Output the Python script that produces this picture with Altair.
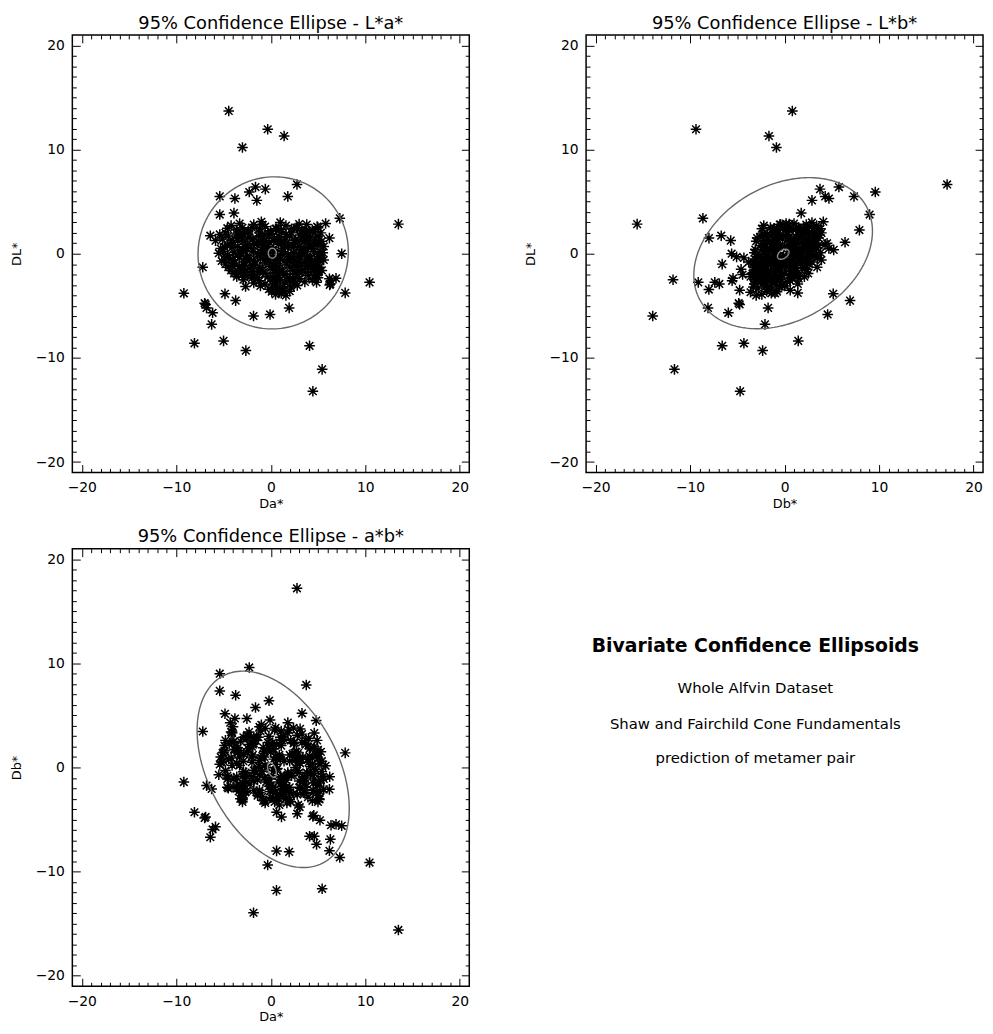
import numpy as np
import pandas as pd
import altair as alt

# ---------------- data (DL*, Da*, Db*) ----------------
# dense central cluster, row by row
core_L = [2.7, 2.5, 2.8, 2.6, 2.4, 2.7, 2.5, 2.8, 2.6,
          2.3, 2.2, 2.4, 2.2, 2.3, 2.4, 2.2, 2.3,
          2.0, 1.9, 2.1, 2.0, 1.9, 2.1, 2.0, 1.9, 2.1, 2.0,
          1.7, 1.8, 1.6, 1.7, 1.8, 1.6, 1.7, 1.8, 1.6, 1.7,
          1.4, 1.3, 1.5, 1.4, 1.3, 1.5, 1.4, 1.3, 1.5, 1.4,
          1.1, 1.2, 1.0, 1.1, 1.2, 1.0, 1.1, 1.2, 1.0,
          0.8, 0.7, 0.9, 0.8, 0.7, 0.9, 0.8, 0.7, 0.9, 0.8,
          0.5, 0.6, 0.4, 0.5, 0.6, 0.4, 0.5, 0.6, 0.4, 0.5,
          0.2, 0.1, 0.3, 0.2, 0.1, 0.3, 0.2, 0.1, 0.3, 0.2, 0.1,
          -0.1, 0.0, -0.2, -0.1, 0.0, -0.2, -0.1, 0.0, -0.2, -0.1,
          -0.4, -0.3, -0.5, -0.4, -0.3, -0.5, -0.4, -0.3, -0.5, -0.4,
          -0.7, -0.6, -0.8, -0.7, -0.6, -0.8, -0.7, -0.6, -0.8, -0.7,
          -1.0, -0.9, -1.1, -1.0, -0.9, -1.1, -1.0, -0.9, -1.1, -1.0,
          -1.3, -1.2, -1.4, -1.3, -1.2, -1.4, -1.3, -1.2, -1.4, -1.3,
          -1.6, -1.5, -1.7, -1.6, -1.5, -1.7, -1.6, -1.5, -1.7, -1.6,
          -1.9, -1.8, -2.0, -1.9, -1.8, -2.0, -1.9, -1.8, -2.0,
          -2.2, -2.1, -2.3, -2.2, -2.1, -2.3, -2.2, -2.1, -2.3,
          -2.5, -2.6, -2.4, -2.5, -2.6, -2.4, -2.5,
          -2.8, -2.9, -2.7, -2.8, -2.9, -2.7,
          -3.4, -3.3, -3.5, -3.2,
          -3.9, -3.8, -4.0,
          2.9, 2.8, 3.0, 2.85,
          2.45, 2.5, 2.4, 2.45, 2.5,
          1.85, 1.9, 1.8, 1.85, 1.9,
          1.25, 1.2, 1.3, 1.25, 1.2,
          0.65, 0.6, 0.7, 0.65, 0.6, 0.7,
          0.05, 0.0, 0.1, 0.05, 0.0, 0.1,
          -0.55, -0.5, -0.6, -0.55, -0.5, -0.6,
          -1.15, -1.1, -1.2, -1.15, -1.1,
          -1.75, -1.7, -1.8, -1.75, -1.7,
          -2.35, -2.3, -2.4, -2.35,
          -3.1, -3.0, -3.2, -3.05,
          -3.65, -3.7, -3.6]
core_a = [-4.2, -3.0, -1.8, -0.6, 0.5, 1.6, 2.7, 3.8, 4.9,
          -3.6, -2.4, -1.2, 0.0, 1.1, 2.2, 3.3, 4.4,
          -4.8, -3.6, -2.4, -1.2, 0.0, 1.1, 2.2, 3.3, 4.4, 5.3,
          -4.5, -3.4, -2.3, -1.3, -0.2, 0.9, 2.0, 3.1, 4.2, 5.0,
          -5.1, -4.1, -3.0, -1.9, -0.7, 0.4, 1.5, 2.6, 3.7, 4.7,
          -4.0, -2.9, -1.8, -0.8, 0.3, 1.4, 2.5, 3.6, 4.6,
          -4.6, -3.5, -2.5, -1.4, -0.3, 0.8, 1.9, 3.0, 4.1, 5.2,
          -5.3, -4.1, -3.0, -2.0, -0.9, 0.2, 1.3, 2.4, 3.5, 4.5,
          -5.0, -3.9, -2.9, -1.8, -0.8, 0.3, 1.3, 2.4, 3.5, 4.6, 5.5,
          -4.6, -3.5, -2.5, -1.4, -0.4, 0.7, 1.8, 2.9, 3.9, 5.0,
          -4.4, -3.3, -2.2, -1.1, 0.0, 1.0, 2.1, 3.1, 4.2, 5.2,
          -5.2, -4.0, -2.9, -1.8, -0.7, 0.4, 1.4, 2.5, 3.6, 4.6,
          -4.8, -3.8, -2.7, -1.6, -0.5, 0.6, 1.7, 2.8, 3.9, 4.9,
          -4.5, -3.3, -2.3, -1.2, -0.1, 0.9, 2.0, 3.1, 4.2, 5.1,
          -4.2, -3.0, -2.0, -0.9, 0.2, 1.2, 2.3, 3.4, 4.5, 5.4,
          -3.9, -2.8, -1.7, -0.6, 0.5, 1.5, 2.6, 3.7, 4.8,
          -3.6, -2.5, -1.4, -0.3, 0.8, 1.8, 2.9, 4.0, 5.0,
          -2.9, -1.2, 0.0, 1.0, 2.0, 3.0, 4.4,
          -1.8, -0.6, 0.5, 1.5, 2.5, 3.6,
          -0.2, 0.7, 1.4, 2.1,
          0.5, 1.1, 1.6,
          -3.3, -0.9, 1.0, 3.0,
          -4.6, -2.0, 0.6, 2.8, 5.0,
          -5.4, -2.9, -0.7, 1.6, 3.7,
          -3.5, -1.3, 0.9, 3.1, 5.4,
          -4.9, -2.7, -0.4, 1.8, 4.0, 5.6,
          -5.5, -3.2, -1.0, 1.2, 3.4, 5.3,
          -4.9, -2.6, -0.2, 2.0, 4.1, 5.6,
          -4.1, -1.9, 0.3, 2.5, 4.5,
          -3.4, -1.2, 1.0, 3.0, 5.1,
          -2.0, 0.3, 2.4, 4.6,
          -1.1, 0.2, 1.2, 2.8,
          0.1, 0.9, 2.0]
core_b = [3.4, -1.5, 2.3, 0.2, 3.8, -2.2, 1.5, -0.5, 2.6,
          0.4, 3.0, -2.4, 1.7, 3.5, -0.8, 2.4, 0.9,
          2.6, -0.9, 1.8, 3.9, -1.8, 2.1, -0.6, 3.2, 0.3, -1.2,
          -2.0, 1.6, 3.4, 0.1, 3.0, -2.6, 1.2, 3.7, -0.6, 1.7,
          1.4, 3.3, -2.9, 2.2, -1.0, 3.6, -0.9, 0.7, 2.6, -0.2,
          2.4, 0.6, -2.2, 1.9, -3.0, 2.7, 1.0, -1.0, 3.3,
          -0.8, 1.9, 2.8, -2.5, 2.4, -1.4, 3.6, -0.5, 1.1, 0.4,
          1.0, 3.4, -3.1, 0.5, 1.1, -1.9, 3.0, 2.3, -2.4, -1.5,
          0.6, -1.1, 1.3, 2.9, -3.2, 1.8, -2.0, 3.8, -1.3, 2.0, -0.9,
          -1.9, 1.4, 3.1, -2.7, 1.7, -0.1, 3.3, 1.4, -0.6, 0.9,
          2.3, 0.2, -1.6, 3.5, -2.9, 0.9, 2.6, -1.9, 0.1, -2.3,
          0.5, -1.9, 2.9, -0.3, 1.0, -3.3, -0.9, 2.4, -1.5, -0.6,
          -0.3, 1.7, -2.4, 2.6, -1.4, 2.2, -3.4, -2.6, 0.8, -1.7,
          -1.0, -2.0, 2.2, -0.7, -2.3, 1.0, -3.1, 0.4, 1.9, -3.0,
          0.9, -3.0, 1.0, -2.8, 2.4, -1.8, 1.3, -0.9, -2.2, -0.4,
          2.5, -1.7, -0.3, -3.4, 1.0, -2.6, 0.0, -1.9, 1.2,
          -2.0, 1.4, -1.2, 2.1, -2.9, -0.5, -3.6, 0.5, -2.7,
          -0.4, -2.2, 1.5, -2.8, 0.6, -1.3, -3.2,
          -1.3, -3.2, 0.3, -2.1, 1.4, -2.5,
          -1.8, -2.8, 0.6, -3.3,
          -2.4, -1.0, -3.0,
          1.0, -0.4, 2.9, 0.5,
          -1.1, 2.0, -0.2, 3.1, 1.3,
          0.3, -2.3, 1.5, -1.2, 2.2,
          -1.6, 2.9, 1.2, -2.0, 0.6,
          2.1, -1.3, 0.0, -0.7, 2.8, -2.1,
          -0.7, 2.5, 0.9, 2.6, 1.0, 1.5,
          1.6, -0.8, -1.1, -2.4, 1.8, -1.1,
          0.2, 1.2, -0.3, 1.0, -2.4,
          -2.3, 0.7, -0.9, 0.9, -1.5,
          -0.9, 0.8, -2.5, -1.1,
          0.0, -2.1, -1.5, -0.3,
          -0.8, -3.6, -1.9]

# scattered observations
out_L = [13.7, 11.95, 11.3, 10.2, 2.84, 6.65, 5.5, 6.4, 6.2, 5.92,
         5.12, 5.5, 5.3, 3.76, 3.9, 3.4, 2.9, 1.73, 1.26, 1.5,
         0.0, -1.3, -2.75, -3.8, -3.85, -3.15, -4.5, -3.76, -2.75, -3.0,
         -2.36, -4.87, -5.2, -5.67, -6.78, -5.98, -5.83, -5.2, -8.6, -8.37,
         -9.3, -8.84, -11.1, -13.2, -2.9, 1.0, -2.5, -3.44, 2.27, 1.1,
         0.37, -2.4, -4.75, 0.5, 3.07, -0.4, -1.6, -2.0, -1.2, -0.6,
         -1.8, -3.5, -2.0, -0.8, -1.5, -0.3, -2.6, -1.0, 0.9, -0.6]
out_a = [-4.45, -0.33, 1.41, -3.0, 13.5, 2.77, 1.8, -1.62, -0.58, -2.28,
         -1.48, -5.4, -3.8, -5.4, -3.9, 7.3, 5.8, -6.4, -5.85, 6.2,
         7.5, -7.2, 10.45, -9.2, -4.85, -2.67, -3.72, 7.87, 4.84, 6.23,
         6.9, -6.9, -6.8, -6.16, -6.26, -1.83, -0.08, 1.94, -8.08, -5.0,
         -2.64, 4.1, 5.43, 4.45, 6.3, 4.8, 0.6, 0.61, 3.75, -0.19,
         3.3, 6.2, -7.0, -2.53, -1.0, 0.61, -3.23, -3.0, 3.93, 5.15,
         4.99, 1.13, 2.8, 3.05, 4.55, 5.2, 6.37, 4.6, -4.3, -4.0]
out_b = [0.82, -9.37, -1.65, -0.86, -15.6, 17.2, 4.3, 5.75, 3.75, 9.6,
         2.9, 7.35, 4.7, 9.0, 1.76, -8.64, 0.16, -6.7, -5.7, -8.0,
         -5.6, 3.45, -9.13, -1.4, 5.15, -0.5, 6.93, 1.4, -7.38, -0.89,
         -5.45, -4.75, -1.74, -5.95, -2.07, -13.95, 4.56, -8.1, -4.3, 1.45,
         -2.32, -6.6, -11.65, -4.7, -6.9, 4.5, -11.8, -8.01, 7.92, 6.4,
         5.2, -2.1, -4.85, 4.69, 4.1, -4.3, -3.0, -3.3, -2.85, -3.07,
         -3.3, -4.75, -4.44, -3.8, -4.6, -5.07, -5.55, -6.6, 4.3, 3.9]

# 95% confidence ellipse per panel: centre and (sxx, syy, sxy)
ell_cx = [0.25, -0.15, 0.25]
ell_cy = [0.08, 0.05, -0.18]
ell_sxx = [63.2, 89.3, 64.8]
ell_syy = [53.3, 52.6, 88.9]
ell_sxy = [1.0, 20.0, -30.0]
# small ellipse of the mean
mean_cx = [0.16, -0.14, 0.12]
mean_cy = [0.05, -0.05, -0.24]
mean_sxx = [0.18, 0.37, 0.22]
mean_syy = [0.23, 0.23, 0.50]
mean_sxy = [0.0, 0.12, -0.15]

titles = ["95% Confidence Ellipse - L*a*", "95% Confidence Ellipse - L*b*",
          "95% Confidence Ellipse - a*b*"]
x_fields = ["a", "b", "a"]
y_fields = ["L", "L", "b"]
x_titles = ["Da*", "Db*", "Da*"]
y_titles = ["DL*", "DL*", "Db*"]

text_lines = ["Bivariate Confidence Ellipsoids", "Whole Alfvin Dataset",
              "Shaw and Fairchild Cone Fundamentals", "prediction of metamer pair"]

MAJOR = [-20, -10, 0, 10, 20]
MINOR = [v for v in range(-20, 21) if v % 10 != 0]
DOM = [-21, 21]
FONT = "DejaVu Sans"
STAR = "M-1,0L1,0M0,-1L0,1M-0.72,-0.72L0.72,0.72M-0.72,0.72L0.72,-0.72"

core = pd.DataFrame({"L": core_L, "a": core_a, "b": core_b})
outl = pd.DataFrame({"L": out_L, "a": out_a, "b": out_b})


def ellipse_df(cx, cy, sxx, syy, sxy, n=181):
    t = np.linspace(0, 2 * np.pi, n)
    sx = np.sqrt(sxx)
    k = sxy / sx
    r = np.sqrt(syy - k * k)
    return pd.DataFrame({"x": cx + sx * np.cos(t),
                         "y": cy + k * np.cos(t) + r * np.sin(t),
                         "i": np.arange(n)})


def axis(orient, values, size, title=None):
    kw = dict(orient=orient, values=values, tickSize=size, offset=-size,
              domain=False, grid=False, ticks=True, tickColor="black",
              tickWidth=1)
    if title is not None:
        kw.update(labels=True, title=title, labelPadding=8, labelFlush=False,
                  labelFont=FONT, labelFontSize=14, labelColor="black",
                  titleFont=FONT, titleFontSize=13, titleFontWeight="normal",
                  titleColor="black",
                  titlePadding=3 if orient == "bottom" else 12)
    else:
        kw.update(labels=False, title=None)
    return alt.Axis(**kw)


def panel(k):
    xf, yf = x_fields[k], y_fields[k]
    sc = alt.Scale(domain=DOM, nice=False, zero=False)
    pts_kw = dict(shape=STAR, filled=False, stroke="black", strokeWidth=1.5,
                  size=115, opacity=1)
    p_core = alt.Chart(core).mark_point(**pts_kw).encode(
        x=alt.X(f"{xf}:Q", scale=sc, axis=axis("bottom", MAJOR, 8, x_titles[k])),
        y=alt.Y(f"{yf}:Q", scale=sc, axis=axis("left", MAJOR, 8, y_titles[k])),
    )
    p_out = alt.Chart(outl).mark_point(**pts_kw).encode(
        x=alt.X(f"{xf}:Q", scale=sc, axis=axis("bottom", MINOR, 4)),
        y=alt.Y(f"{yf}:Q", scale=sc, axis=axis("left", MINOR, 4)),
    )
    e_big = alt.Chart(ellipse_df(ell_cx[k], ell_cy[k], ell_sxx[k], ell_syy[k], ell_sxy[k])
                      ).mark_line(color="#666666", strokeWidth=1.4).encode(
        x=alt.X("x:Q", scale=sc, axis=axis("top", MAJOR, 8)),
        y=alt.Y("y:Q", scale=sc, axis=axis("right", MAJOR, 8)),
        order="i:Q",
    )
    e_small = alt.Chart(ellipse_df(mean_cx[k], mean_cy[k], mean_sxx[k], mean_syy[k], mean_sxy[k], 61)
                        ).mark_line(color="#8a8a8a", strokeWidth=1.4).encode(
        x=alt.X("x:Q", scale=sc, axis=axis("top", MINOR, 4)),
        y=alt.Y("y:Q", scale=sc, axis=axis("right", MINOR, 4)),
        order="i:Q",
    )
    return alt.layer(p_core, p_out, e_big, e_small).resolve_scale(
        x="independent", y="independent"
    ).properties(
        width=401, height=442,
        title=alt.TitleParams(text=titles[k], font=FONT, fontSize=18,
                              fontWeight="normal", color="black", offset=2,
                              anchor="middle"),
    )


def text_panel():
    ys = [98, 141, 177, 212]
    layers = []
    for i, line in enumerate(text_lines):
        layers.append(
            alt.Chart(pd.DataFrame({"t": [line]})).mark_text(
                font=FONT, fontSize=19 if i == 0 else 15,
                fontWeight="bold" if i == 0 else "normal",
                align="center", baseline="middle", color="black",
            ).encode(text="t:N", x=alt.value(171), y=alt.value(ys[i]))
        )
    return alt.layer(*layers).properties(
        width=401, height=442, view=alt.ViewBackground(strokeOpacity=0)
    )


chart = alt.concat(
    panel(0), panel(1), panel(2), text_panel(),
    columns=2, spacing={"row": 77, "column": 118}, bounds="flush",
).properties(
    padding={"left": 1, "top": 0, "right": 0, "bottom": 0},
    background="white",
).configure_view(stroke="black", strokeWidth=1.5)

chart.save("out.html", embed_options={"renderer": "svg", "actions": False})
